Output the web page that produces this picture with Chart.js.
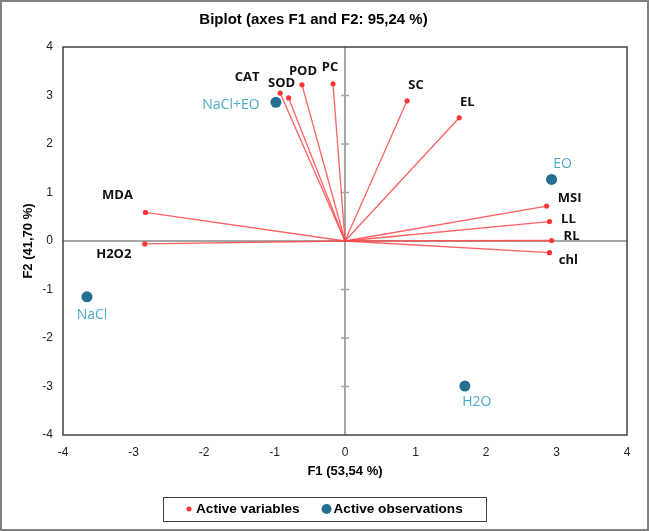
<!DOCTYPE html>
<html>
<head>
<meta charset="utf-8">
<script src="https://cdn.jsdelivr.net/npm/chart.js@4.4.1/dist/chart.umd.min.js"></script>
<style>
  body { margin: 0; background: #fff; }
  #wrap { width: 649px; height: 531px; }
</style>
</head>
<body>
<div id="wrap"><canvas id="biplot" width="649" height="531"></canvas></div>
<script>
// active variables (loadings) and observations
let varNames = ["CAT", "SOD", "POD", "PC", "SC", "EL", "MDA", "H2O2", "MSI", "LL", "RL", "chl"];
let varF1 = [-0.92, -0.80, -0.61, -0.17, 0.88, 1.62, -2.83, -2.84, 2.86, 2.90, 2.93, 2.90];
let varF2 = [3.05, 2.95, 3.22, 3.24, 2.89, 2.54, 0.59, -0.06, 0.72, 0.40, 0.01, -0.24];
let obsNames = ["NaCl+EO", "EO", "NaCl", "H2O"];
let obsF1 = [-0.98, 2.93, -3.66, 1.70];
let obsF2 = [2.86, 1.27, -1.15, -2.99];
let axisTicks = [-4, -3, -2, -1, 0, 1, 2, 3, 4];

// label nudges in px (dx, dy from the point)
let varShift = [[-33,-16],[-7,-15],[1,-14],[-3,-17],[9,-16],[8,-16],[-28,-17],[-31,10],[23,-8],[19,-2],[20,-4],[19,8]];
let obsShift = [[-45,3],[11,-15],[5,18],[12,16]];

const redLine = "rgba(255,70,70,0.85)";
const redDot = "#ff3535";
const obsBlue = "#246e93";
const obsText = "#4bacc6";

let datasets = [];
varNames.forEach((n, i) => {
  datasets.push({
    label: n,
    data: [{ x: 0, y: 0 }, { x: varF1[i], y: varF2[i] }],
    showLine: true,
    borderColor: redLine,
    borderWidth: 1.3,
    pointRadius: [0, 2.6],
    pointBackgroundColor: redDot,
    pointBorderWidth: 0
  });
});
datasets.push({
  label: "Active observations",
  data: obsNames.map((n, i) => ({ x: obsF1[i], y: obsF2[i] })),
  pointRadius: 5.5,
  pointBackgroundColor: obsBlue,
  pointBorderWidth: 0
});

const extras = {
  id: "extras",
  beforeDatasetsDraw(chart) {
    const ctx = chart.ctx, xs = chart.scales.x, ys = chart.scales.y;
    const x0 = xs.getPixelForValue(0);
    ctx.save();
    ctx.strokeStyle = "#a6a6a6";
    ctx.lineWidth = 1.5;
    axisTicks.forEach(v => {
      if (v === 0 || Math.abs(v) === 4) return;
      const py = ys.getPixelForValue(v);
      ctx.beginPath();
      ctx.moveTo(x0 - 4, py);
      ctx.lineTo(x0 + 4, py);
      ctx.stroke();
    });
    ctx.restore();
  },
  afterDraw(chart) {
    const ctx = chart.ctx, xs = chart.scales.x, ys = chart.scales.y;
    const a = chart.chartArea;
    ctx.save();
    // plot frame
    ctx.strokeStyle = "#404040";
    ctx.lineWidth = 1.5;
    ctx.strokeRect(a.left, a.top, a.right - a.left, a.bottom - a.top);

    // point labels
    ctx.textAlign = "center";
    ctx.textBaseline = "middle";
    ctx.font = "bold 13px 'Open Sans'";
    ctx.fillStyle = "#111";
    varNames.forEach((n, i) => {
      ctx.fillText(n, xs.getPixelForValue(varF1[i]) + varShift[i][0], ys.getPixelForValue(varF2[i]) + varShift[i][1]);
    });
    ctx.font = "14px 'Open Sans'";
    ctx.fillStyle = obsText;
    obsNames.forEach((n, i) => {
      ctx.fillText(n, xs.getPixelForValue(obsF1[i]) + obsShift[i][0], ys.getPixelForValue(obsF2[i]) + obsShift[i][1]);
    });

    // legend
    ctx.font = "bold 13.6px 'Liberation Sans'";
    ctx.textAlign = "left";
    const t1 = "Active variables", t2 = "Active observations";
    const w1 = ctx.measureText(t1).width;
    let lx = 187;
    const ly = 509;
    ctx.strokeStyle = "#404040";
    ctx.lineWidth = 1;
    ctx.strokeRect(163.5, 497.5, 323, 24);
    ctx.beginPath(); ctx.fillStyle = redDot; ctx.arc(lx + 2, ly, 2.5, 0, Math.PI * 2); ctx.fill();
    ctx.fillStyle = "#000";
    ctx.fillText(t1, lx + 9, ly);
    lx += 9 + w1 + 26;
    ctx.beginPath(); ctx.fillStyle = obsBlue; ctx.arc(lx + 1, ly, 5, 0, Math.PI * 2); ctx.fill();
    ctx.fillStyle = "#000";
    ctx.fillText(t2, lx + 8, ly);

    // outer image frame
    ctx.strokeStyle = "#808080";
    ctx.lineWidth = 2;
    ctx.strokeRect(1, 1, chart.width - 2, chart.height - 2);
    ctx.restore();
  }
};

function zeroGrid(c) {
  return c.tick && c.tick.value === 0 ? "#a6a6a6" : "rgba(0,0,0,0)";
}

new Chart(document.getElementById("biplot"), {
  type: "scatter",
  data: { datasets: datasets },
  options: {
    responsive: false,
    animation: false,
    events: [],
    layout: { padding: { top: 0, right: 22, bottom: 46, left: 0 } },
    plugins: {
      legend: { display: false },
      tooltip: { enabled: false },
      title: {
        display: true,
        text: "Biplot (axes F1 and F2: 95,24 %)",
        color: "#000",
        font: { family: "'Liberation Sans'", size: 15, weight: "bold" },
        padding: { top: 11, bottom: 18 }
      }
    },
    scales: {
      x: {
        min: -4, max: 4,
        afterBuildTicks: s => { s.ticks = axisTicks.map(v => ({ value: v })); },
        afterFit: s => { s.height = 50; },
        grid: { color: zeroGrid, lineWidth: 2, drawTicks: false },
        border: { display: false },
        ticks: { padding: 10, color: "#222", font: { family: "'Liberation Sans'", size: 12 } },
        title: {
          display: true, text: "F1 (53,54 %)", color: "#000",
          font: { family: "'Liberation Sans'", size: 13, weight: "bold" },
          padding: { top: 0, bottom: 6 }
        }
      },
      y: {
        min: -4, max: 4,
        afterBuildTicks: s => { s.ticks = axisTicks.map(v => ({ value: v })); },
        afterFit: s => { s.width = 63; },
        grid: { color: zeroGrid, lineWidth: 2, drawTicks: false },
        border: { display: false },
        ticks: { padding: 10, color: "#222", font: { family: "'Liberation Sans'", size: 12 } },
        title: {
          display: true, text: "F2 (41,70 %)", color: "#000",
          font: { family: "'Liberation Sans'", size: 13, weight: "bold" },
          padding: { top: 21, bottom: 0 }
        }
      }
    }
  },
  plugins: [extras]
});
</script>
</body>
</html>
